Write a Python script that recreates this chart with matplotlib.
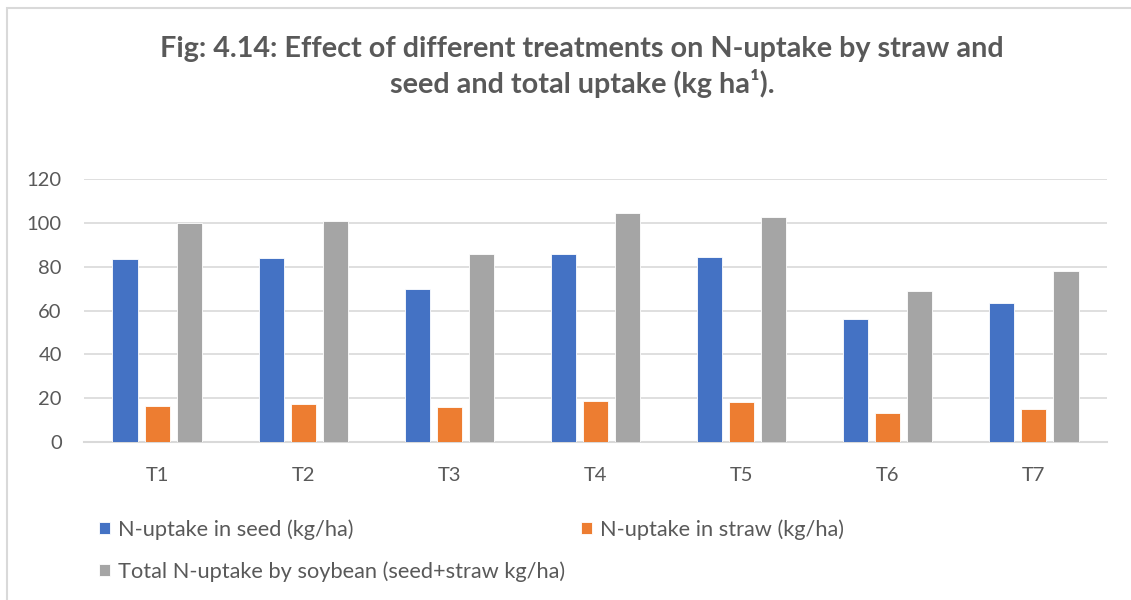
import matplotlib
matplotlib.use("Agg")
import numpy as np
import matplotlib.pyplot as plt
from matplotlib.patches import Rectangle

# Data
treatments = ["T1", "T2", "T3", "T4", "T5", "T6", "T7"]
seed_uptake = [83.5, 83.8, 70.0, 85.7, 84.4, 56.0, 63.4]
straw_uptake = [16.4, 17.3, 16.1, 18.8, 18.4, 13.2, 14.9]
total_uptake = [100.0, 100.9, 85.9, 104.7, 102.6, 69.0, 78.1]
y_ticks = [0, 20, 40, 60, 80, 100, 120]

series_labels = [
    "N-uptake in seed (kg/ha)",
    "N-uptake in straw (kg/ha)",
    "Total N-uptake by soybean (seed+straw kg/ha)",
]
colors = ["#4472C4", "#ED7D31", "#A5A5A5"]
text_color = "#595959"
grid_color = "#D9D9D9"

plt.rcParams["font.family"] = ["Lato", "DejaVu Sans"]

W, H = 1131, 600
fig = plt.figure(figsize=(W / 100, H / 100), dpi=100)
ax = fig.add_axes([84 / W, 1 - 442 / H, (1107 - 84) / W, (442 - 179) / H])

x = np.arange(len(treatments))
bar_w = 0.172
step = 0.219
handles = []
for i, (vals, col, lab) in enumerate(zip([seed_uptake, straw_uptake, total_uptake], colors, series_labels)):
    b = ax.bar(x + (i - 1) * step, vals, width=bar_w, color=col, edgecolor="white",
               linewidth=0.6, label=lab, zorder=3)
    handles.append(b)

ax.set_xlim(-0.5, len(treatments) - 0.5)
ax.set_ylim(0, 120)
ax.set_yticks(y_ticks)
ax.set_xticks(x)
ax.set_xticklabels(treatments)
ax.grid(axis="y", color=grid_color, linewidth=1.2, zorder=0)
ax.tick_params(axis="both", length=0, labelsize=14.5, colors=text_color)
ax.tick_params(axis="y", pad=16)
ax.tick_params(axis="x", pad=18)
for s in ["top", "right", "left"]:
    ax.spines[s].set_visible(False)
ax.spines["bottom"].set_color(grid_color)
ax.spines["bottom"].set_linewidth(1.5)

fig.text(582 / W, 1 - 67 / H,
         "Fig: 4.14: Effect of different treatments on N-uptake by straw and\n"
         "seed and total uptake (kg ha\u00b9).",
         ha="center", va="center", fontsize=20.7, fontweight="bold",
         color=text_color, linespacing=1.3)

# row-major order for a 2-column legend
leg = fig.legend([handles[0], handles[2], handles[1]],
                 [series_labels[0], series_labels[2], series_labels[1]],
                 ncol=2, loc="upper left", bbox_to_anchor=(99 / W, 1 - 519 / H),
                 frameon=False, fontsize=15.7, handlelength=0.5, handleheight=0.5,
                 handletextpad=0.35, labelspacing=1.0, columnspacing=0.75,
                 borderpad=0, borderaxespad=0)
for t in leg.get_texts():
    t.set_color(text_color)

# chart border (only top and left edges show inside the crop)
fig.add_artist(Rectangle((7 / W, -0.1), 1.2, (1 - 8 / H) + 0.1, transform=fig.transFigure,
                         fill=False, edgecolor=grid_color, linewidth=1.5))

fig.savefig("out.png", dpi=100)
